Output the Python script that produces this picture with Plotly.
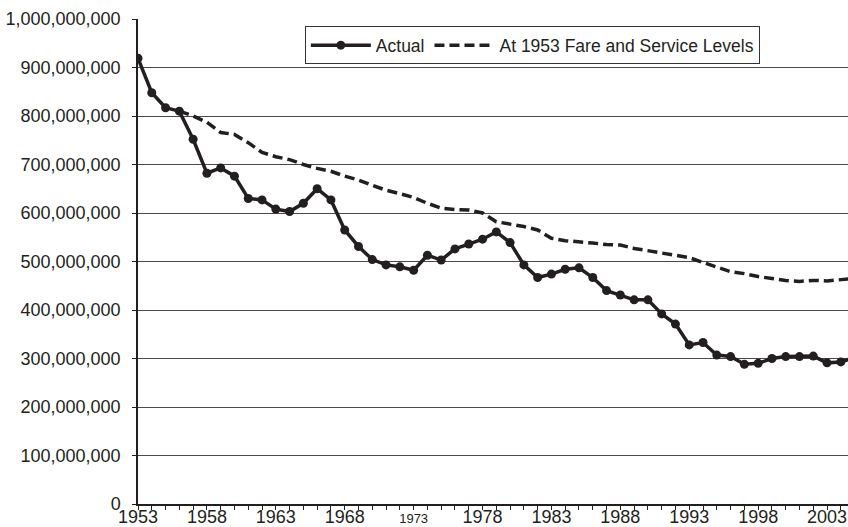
import plotly.graph_objects as go

years_actual = list(range(1953, 2006))
actual = [919, 848, 817, 810, 752, 682, 693, 676, 630, 627,
          608, 603, 620, 650, 627, 565, 531, 504, 493, 489,
          482, 513, 503, 526, 536, 546, 561, 539, 493, 467,
          474, 484, 487, 467, 440, 431, 421, 421, 392, 371,
          328, 333, 307, 304, 288, 290, 300, 304, 304, 305,
          291, 293, 302]
actual = [v * 1_000_000 for v in actual]

years_1953 = list(range(1956, 2006))
at_1953 = [810, 800, 787, 766, 762, 745, 725, 716, 710, 700,
           692, 686, 676, 668, 657, 647, 640, 632, 620, 610,
           607, 606, 600, 582, 577, 572, 565, 548, 543, 541,
           538, 535, 534, 527, 522, 518, 513, 508, 498, 488,
           479, 475, 469, 465, 461, 459, 461, 460, 463, 465]
at_1953 = [v * 1_000_000 for v in at_1953]

x_tick_vals = [1953, 1958, 1963, 1968, 1973, 1978, 1983, 1988, 1993, 1998, 2003]
x_tick_text = ["1953", "1958", "1963", "1968",
               "<span style='font-size:13px'>1973</span>",
               "1978", "1983", "1988", "1993", "1998", "2003"]
y_tick_vals = [i * 100_000_000 for i in range(11)]
y_tick_text = ["0", "100,000,000", "200,000,000", "300,000,000", "400,000,000",
               "500,000,000", "600,000,000", "700,000,000", "800,000,000",
               "900,000,000", "1,000,000,000"]

ink = "#231f20"

fig = go.Figure()
fig.add_trace(go.Scatter(
    x=years_actual, y=actual, name="Actual", mode="lines+markers",
    line=dict(color=ink, width=3.5),
    marker=dict(color=ink, size=9, symbol="circle"),
))
fig.add_trace(go.Scatter(
    x=years_1953, y=at_1953, name="At 1953 Fare and Service Levels", mode="lines",
    line=dict(color=ink, width=3.5, dash="10px,5px"),
))

fig.update_layout(
    width=848, height=527,
    margin=dict(l=138, r=0, t=19, b=23),
    paper_bgcolor="white", plot_bgcolor="white",
    font=dict(family="Liberation Sans, Arial, sans-serif", color=ink, size=17),
    showlegend=True,
    legend=dict(
        orientation="h", x=0.235, y=0.985, xanchor="left", yanchor="top",
        bgcolor="white", bordercolor="#333", borderwidth=1,
        font=dict(size=17.5, color=ink), itemwidth=60,
        traceorder="normal", tracegroupgap=0,
    ),
    xaxis=dict(
        range=[1953, 2004.52], tickmode="array",
        tickvals=x_tick_vals, ticktext=x_tick_text,
        automargin=False,
        showgrid=False, zeroline=False,
        showline=True, linecolor=ink, linewidth=1.5,
        ticks="outside", ticklen=4, tickcolor=ink, tickwidth=1,
        minor=dict(dtick=1, tick0=1953, ticks="outside", ticklen=4, tickcolor=ink, showgrid=False),
        tickfont=dict(size=18, color=ink),
        ticklabelstandoff=-8,
    ),
    yaxis=dict(
        range=[0, 1_000_000_000], tickmode="array",
        tickvals=y_tick_vals, ticktext=y_tick_text,
        automargin=False,
        showgrid=True, gridcolor="#4a4a4a", gridwidth=1,
        zeroline=False,
        showline=True, linecolor=ink, linewidth=1.5,
        ticks="outside", ticklen=4, tickcolor=ink,
        tickfont=dict(size=18, color=ink),
        ticklabelstandoff=8,
    ),
)

fig.write_html(
    "out.html",
    config={"displayModeBar": False},
    post_script="document.body.style.margin='0';document.body.style.padding='0';document.body.style.overflow='hidden';",
)
